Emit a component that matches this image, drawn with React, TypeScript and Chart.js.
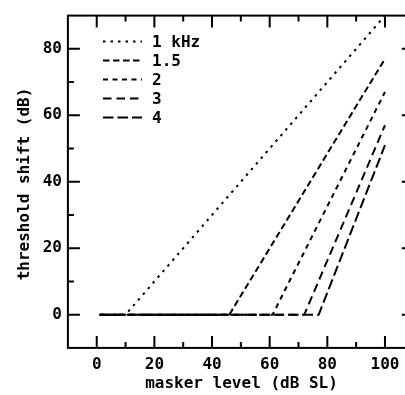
import { useEffect, useRef } from "react";
import { Chart, registerables } from "chart.js";

Chart.register(...registerables);

// ---- data ----
const seriesLabels = ["1 kHz", "1.5", "2", "3", "4"];
const x1k = [1, 10, 100];
const y1k = [0, 0, 90];
const x1k5 = [1, 46, 100];
const y1k5 = [0, 0, 77];
const x2k = [1, 61, 100];
const y2k = [0, 0, 67];
const x3k = [1, 72, 100];
const y3k = [0, 0, 57];
const x4k = [1, 77, 100];
const y4k = [0, 0, 51];

const xMajorTicks = [0, 20, 40, 60, 80, 100];
const xMinorTicks = [10, 30, 50, 70, 90];
const yMajorTicks = [0, 20, 40, 60, 80];
const yMinorTicks = [10, 30, 50, 70];

const xAxisTitle = "masker level (dB SL)";
const yAxisTitle = "threshold shift (dB)";

const dashes = [
  [2.5, 5],
  [6.5, 3.5],
  [5, 4.5],
  [8.5, 5],
  [10.5, 4],
];

const FAMILY = '"DejaVu Sans Mono", monospace';
const WEIGHT = "bold";
const FONT = `${WEIGHT} 16px ${FAMILY}`;

const toPts = (xs: number[], ys: number[]) => xs.map((x, i) => ({ x, y: ys[i] }));

const framePlugin = {
  id: "frameTicksLegend",
  afterDraw(chart: any) {
    const { ctx, chartArea } = chart;
    const xs = chart.scales.x;
    const ys = chart.scales.y;
    const { left, right, top, bottom } = chartArea;
    ctx.save();
    ctx.strokeStyle = "#000";
    ctx.lineWidth = 2;
    ctx.setLineDash([]);
    ctx.strokeRect(left, top, right - left, bottom - top);
    ctx.beginPath();
    const MAJ = 12;
    const MIN = 6;
    xMajorTicks.forEach((v) => {
      const p = xs.getPixelForValue(v);
      ctx.moveTo(p, bottom);
      ctx.lineTo(p, bottom - MAJ);
      ctx.moveTo(p, top);
      ctx.lineTo(p, top + MAJ);
    });
    xMinorTicks.forEach((v) => {
      const p = xs.getPixelForValue(v);
      ctx.moveTo(p, bottom);
      ctx.lineTo(p, bottom - MIN);
      ctx.moveTo(p, top);
      ctx.lineTo(p, top + MIN);
    });
    yMajorTicks.forEach((v) => {
      const p = ys.getPixelForValue(v);
      ctx.moveTo(left, p);
      ctx.lineTo(left + MAJ, p);
      ctx.moveTo(right, p);
      ctx.lineTo(right - MAJ, p);
    });
    yMinorTicks.forEach((v) => {
      const p = ys.getPixelForValue(v);
      ctx.moveTo(left, p);
      ctx.lineTo(left + MIN, p);
      ctx.moveTo(right, p);
      ctx.lineTo(right - MIN, p);
    });
    ctx.stroke();

    // axis titles
    ctx.fillStyle = "#000";
    ctx.font = FONT;
    ctx.textAlign = "center";
    ctx.textBaseline = "alphabetic";
    ctx.fillText(xAxisTitle, 241.5, 388);
    ctx.save();
    ctx.translate(29, 184);
    ctx.rotate(-Math.PI / 2);
    ctx.fillText(yAxisTitle, 0, 0);
    ctx.restore();

    // legend
    const rowY = [41.5, 60.5, 79.5, 98.5, 117.5];
    chart.data.datasets.forEach((ds: any, i: number) => {
      const y = rowY[i];
      ctx.beginPath();
      ctx.lineWidth = ds.borderWidth;
      ctx.setLineDash(ds.borderDash);
      ctx.moveTo(103, y);
      ctx.lineTo(142, y);
      ctx.stroke();
      ctx.setLineDash([]);
      ctx.textAlign = "left";
      ctx.fillText(ds.label, 152, y + 5.5);
    });
    ctx.restore();
  },
};

export default function App() {
  const ref = useRef<HTMLCanvasElement | null>(null);
  useEffect(() => {
    if (!ref.current) return;
    const sets = [
      toPts(x1k, y1k),
      toPts(x1k5, y1k5),
      toPts(x2k, y2k),
      toPts(x3k, y3k),
      toPts(x4k, y4k),
    ];
    const chart = new Chart(ref.current, {
      type: "line",
      data: {
        datasets: sets.map((d, i) => ({
          label: seriesLabels[i],
          data: d,
          borderColor: "#000",
          borderWidth: 2,
          borderDash: dashes[i],
          pointRadius: 0,
          fill: false,
          tension: 0,
        })),
      },
      options: {
        animation: false,
        responsive: false,
        devicePixelRatio: 1,
        layout: { padding: { left: 0, top: 5.8, right: 6.2, bottom: 0 } },
        plugins: { legend: { display: false }, tooltip: { enabled: false } },
        scales: {
          x: {
            type: "linear",
            min: -10,
            max: 110,
            grid: { display: false, drawTicks: false },
            border: { display: false },
            ticks: {
              font: { family: FAMILY, size: 16, weight: WEIGHT },
              color: "#000",
              padding: 7,
              maxRotation: 0,
              autoSkip: false,
            },
            afterBuildTicks: (s: any) => {
              s.ticks = xMajorTicks.map((v) => ({ value: v }));
            },
            afterFit: (s: any) => {
              s.height = 47.1;
            },
          },
          y: {
            type: "linear",
            min: -10,
            max: 90,
            grid: { display: false, drawTicks: false },
            border: { display: false },
            ticks: {
              font: { family: FAMILY, size: 16, weight: WEIGHT },
              color: "#000",
              padding: 6,
              autoSkip: false,
            },
            afterBuildTicks: (s: any) => {
              s.ticks = yMajorTicks.map((v) => ({ value: v }));
            },
            afterFit: (s: any) => {
              s.width = 67.9;
            },
          },
        },
      },
      plugins: [framePlugin],
    });
    return () => chart.destroy();
  }, []);
  return (
    <div
      style={{
        position: "fixed",
        left: 0,
        top: 0,
        width: 405,
        height: 395,
        overflow: "hidden",
        background: "#fff",
      }}
    >
      <canvas ref={ref} width={420} height={395} style={{ display: "block", width: 420, height: 395 }} />
    </div>
  );
}
